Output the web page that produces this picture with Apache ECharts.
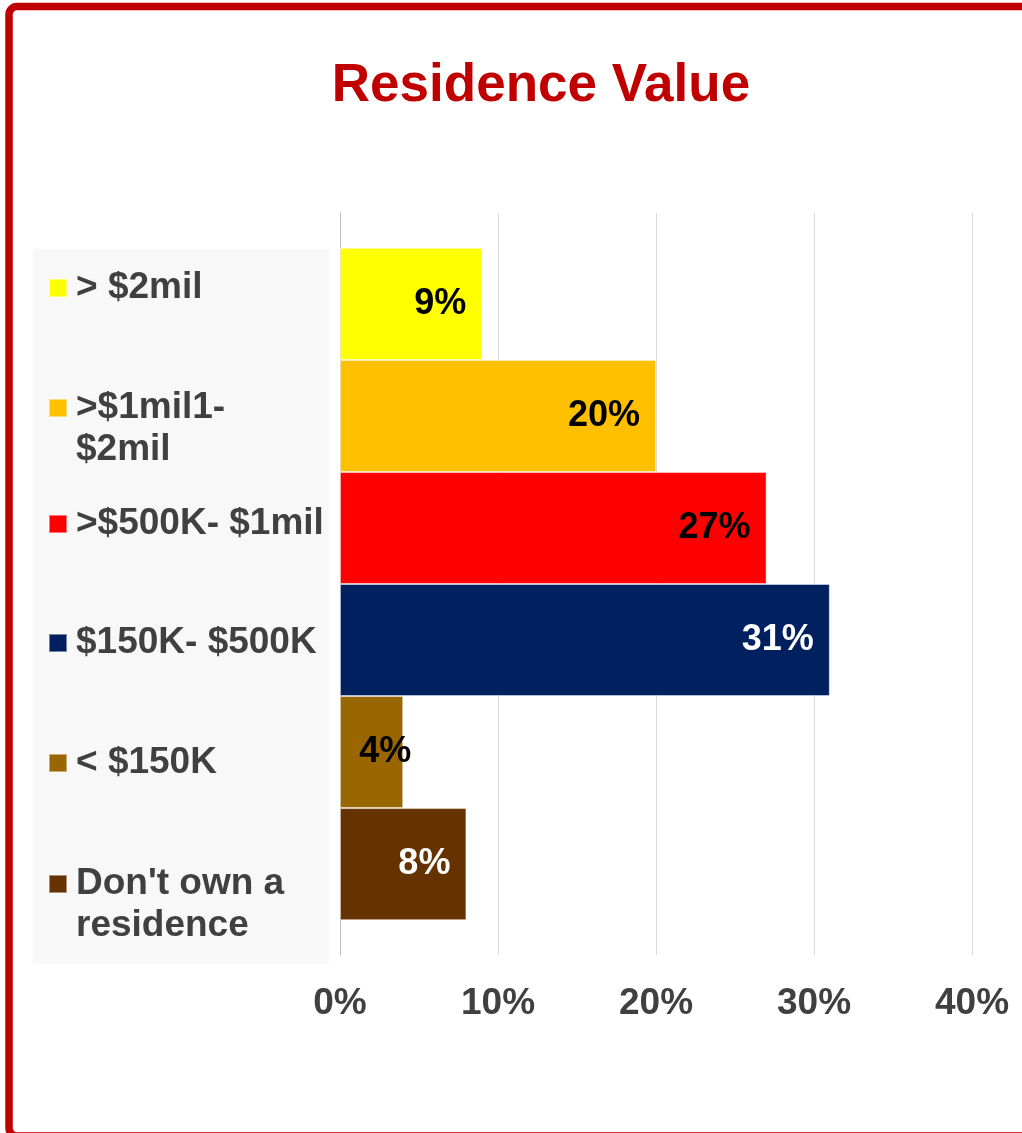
<!DOCTYPE html>
<html>
<head>
<meta charset="utf-8">
<script src="https://cdn.jsdelivr.net/npm/echarts@6/dist/echarts.min.js"></script>
<style>
  html, body { margin: 0; padding: 0; background: #fff; }
  #chart { width: 1022px; height: 1133px; }
</style>
</head>
<body>
<div id="chart"></div>
<script>
// ---- Data ----
const categories = [
  '> $2mil',
  '>$1mil1-\n$2mil',
  '>$500K- $1mil',
  '$150K- $500K',
  '< $150K',
  "Don't own a\nresidence"
];
const values = [9, 20, 27, 31, 4, 8];
const colors = ['#FFFF00', '#FFC000', '#FF0000', '#002060', '#996600', '#663300'];
const labelColors = ['#000000', '#000000', '#000000', '#FFFFFF', '#000000', '#FFFFFF'];
const xTicks = [0, 10, 20, 30, 40];
const titleText = 'Residence Value';

const FONT = "'Liberation Sans', Arial, sans-serif";
const chart = echarts.init(document.getElementById('chart'), null, { renderer: 'canvas' });

// legend icon tops (icon aligned with first text line)
const legendIconTops = [279, 399, 515, 634, 754, 875];
const LH = 42;

const legends = categories.map((name, i) => {
  const nReal = name.split('\n').length;
  // pad with blank lines on top so the first real line sits at the icon's centre
  const padLines = nReal - 1;
  const total = nReal + padLines;
  return {
    data: [name],
    orient: 'vertical',
    left: 48,
    top: legendIconTops[i] + 9 - total * LH / 2,
    padding: 0,
    itemWidth: 26,
    itemHeight: 18,
    symbolKeepAspect: true,
    icon: 'path://M0,0L18,0L18,18L0,18Z',
    selectedMode: false,
    formatter: function (n) {
      return '\u00a0\n'.repeat(padLines) + n;
    },
    textStyle: {
      fontFamily: FONT,
      fontSize: 37,
      fontWeight: 'bold',
      color: '#404040',
      lineHeight: LH
    }
  };
});

const series = categories.map((name, i) => ({
  name: name,
  type: 'bar',
  data: [values[i]],
  barGap: '0%',
  barCategoryGap: '9.4%',
  itemStyle: {
    color: colors[i],
    borderColor: 'rgba(255,255,255,0.45)',
    borderWidth: 1
  },
  label: {
    show: true,
    position: 'insideRight',
    distance: values[i] < 6 ? -8 : 16,
    formatter: '{c}%',
    fontFamily: FONT,
    fontSize: 36,
    fontWeight: 'bold',
    color: labelColors[i]
  },
  emphasis: { disabled: true }
}));

const option = {
  backgroundColor: '#FFFFFF',
  animation: false,
  title: {
    text: titleText,
    left: 536,
    textAlign: 'center',
    top: 55,
    textStyle: {
      fontFamily: FONT,
      fontSize: 53,
      fontWeight: 'bold',
      color: '#C00000'
    }
  },
  graphic: [
    {
      type: 'rect',
      z: 0,
      shape: { x: 33, y: 249, width: 296, height: 715 },
      style: { fill: '#F8F8F8' }
    },
    {
      type: 'rect',
      z: 100,
      shape: { x: 9, y: 6.5, width: 1040, height: 1129.5, r: 8 },
      style: { fill: 'none', stroke: '#C00000', lineWidth: 7.5 }
    }
  ],
  legend: legends,
  grid: { left: 340, right: 50, top: 213, bottom: 178, containLabel: false },
  xAxis: {
    type: 'value',
    min: xTicks[0],
    max: xTicks[xTicks.length - 1],
    interval: xTicks[1] - xTicks[0],
    axisLine: { show: false },
    axisTick: { show: false },
    splitLine: { show: true, lineStyle: { color: '#D9D9D9', width: 1 } },
    axisLabel: {
      formatter: '{value}%',
      margin: 30,
      fontFamily: FONT,
      fontSize: 37,
      fontWeight: 'bold',
      color: '#404040'
    }
  },
  yAxis: {
    type: 'category',
    data: [''],
    axisLine: { show: true, lineStyle: { color: '#BFBFBF', width: 1 } },
    axisTick: { show: false },
    axisLabel: { show: false }
  },
  series: series
};

chart.setOption(option);
</script>
</body>
</html>
